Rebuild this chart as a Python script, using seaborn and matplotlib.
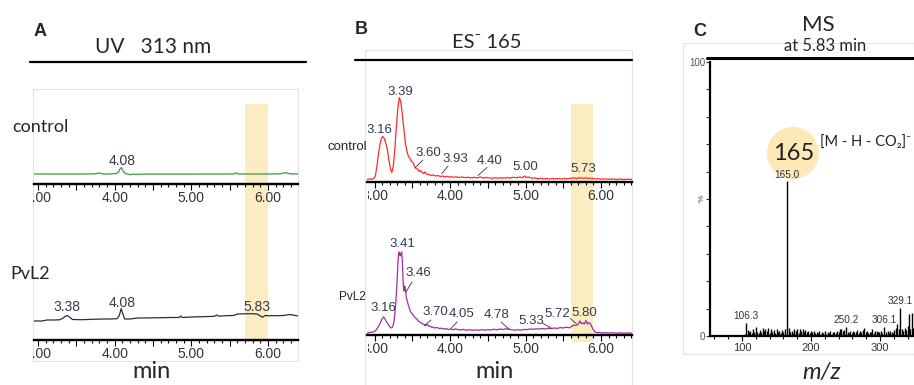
import matplotlib
matplotlib.use('Agg')
import numpy as np
import pandas as pd
import matplotlib.pyplot as plt
import seaborn as sns
from matplotlib.lines import Line2D
from matplotlib.patches import Rectangle, Circle
from matplotlib.ticker import MultipleLocator, FixedLocator, FuncFormatter
from matplotlib.transforms import Bbox, TransformedBbox, blended_transform_factory

# ---------------- data ----------------
# Panel A : UV 313 nm (time in min, signal in arbitrary units)
a_ctrl_t = [2.95, 3.1, 3.3, 3.5, 3.65, 3.74, 3.78, 3.81, 3.84, 3.88, 3.95, 4.02, 4.05, 4.075,
            4.09, 4.11, 4.14, 4.18, 4.22, 4.24, 4.27, 4.4, 4.6, 4.8, 5.0, 5.2, 5.4, 5.55,
            5.58, 5.61, 5.8, 6.0, 6.15, 6.2, 6.23, 6.26, 6.3, 6.39]
a_ctrl_y = [10.0, 10.0, 10.0, 10.0, 10.0, 10.1, 10.8, 10.9, 10.1, 9.9, 10.1, 10.5, 12.0, 15.8,
            16.3, 12.8, 10.4, 9.7, 9.4, 9.9, 9.7, 9.9, 9.9, 9.9, 9.9, 10.0, 10.0, 10.0,
            11.2, 10.0, 10.0, 10.0, 10.1, 10.9, 11.4, 10.6, 10.1, 10.1]

a_pvl_t = [2.95, 3.05, 3.12, 3.2, 3.28, 3.32, 3.35, 3.38, 3.41, 3.45, 3.55, 3.65, 3.75, 3.85,
           3.95, 4.03, 4.06, 4.085, 4.1, 4.13, 4.2, 4.3, 4.45, 4.6, 4.75, 4.84, 4.86, 4.88,
           5.0, 5.15, 5.3, 5.33, 5.36, 5.45, 5.55, 5.6, 5.7, 5.8, 5.86, 5.9, 5.93, 5.96,
           6.0, 6.1, 6.2, 6.28, 6.32, 6.39]
a_pvl_y = [18.5, 18.5, 19.5, 19.5, 19.7, 21.0, 23.0, 24.0, 22.5, 20.0, 19.8, 20.0, 20.3, 20.5,
           20.5, 20.8, 24.0, 31.0, 27.0, 20.5, 20.5, 21.5, 21.6, 21.8, 22.0, 22.0, 23.5, 22.0,
           22.5, 22.8, 23.2, 24.5, 23.3, 23.8, 24.0, 25.5, 25.7, 25.8, 25.3, 23.5, 22.3, 24.0,
           23.8, 23.8, 24.0, 25.0, 24.5, 23.5]

# Panel B : ES- 165 extracted ion chromatograms
b_ctrl_t = [2.90, 2.93, 2.96, 2.99, 3.01, 3.03, 3.05, 3.07, 3.09, 3.11, 3.13, 3.15, 3.17, 3.19,
            3.21, 3.23, 3.25, 3.27, 3.29, 3.31, 3.33, 3.35, 3.37, 3.39, 3.41, 3.43, 3.45, 3.47,
            3.49, 3.51, 3.53, 3.55, 3.57, 3.59, 3.61, 3.63, 3.65, 3.67, 3.69, 3.72, 3.75, 3.78,
            3.81, 3.84, 3.87, 3.90, 3.93, 3.96, 3.99, 4.02, 4.05, 4.08, 4.12, 4.16, 4.20, 4.24,
            4.28, 4.32, 4.36, 4.40, 4.44, 4.48, 4.52, 4.56, 4.60, 4.64, 4.68, 4.72, 4.76, 4.80,
            4.84, 4.88, 4.92, 4.96, 4.99, 5.01, 5.04, 5.08, 5.12, 5.16, 5.20, 5.24, 5.28, 5.32,
            5.36, 5.40, 5.44, 5.48, 5.52, 5.56, 5.60, 5.64, 5.68, 5.72, 5.76, 5.80, 5.84, 5.88,
            5.92, 5.96, 6.00, 6.05, 6.10, 6.15, 6.20, 6.25, 6.30, 6.35, 6.41]
b_ctrl_y = [2.0, 2.6, 2.2, 3.0, 5.0, 14.0, 26.0, 36.0, 43.0, 45.0, 43.0, 38.0, 32.0, 22.0,
            13.0, 9.0, 16.0, 33.0, 55.0, 74.0, 84.0, 79.0, 66.0, 52.0, 38.0, 30.0, 25.0, 23.0,
            20.0, 19.0, 15.0, 13.0, 12.5, 10.0, 11.0, 9.0, 8.0, 9.5, 7.5, 7.0, 6.0, 6.5,
            5.5, 6.0, 5.0, 5.5, 4.5, 5.2, 4.5, 4.8, 4.2, 4.6, 4.0, 4.5, 3.8, 4.3,
            3.6, 4.2, 3.5, 4.5, 3.4, 4.0, 3.5, 3.2, 3.8, 3.3, 3.7, 3.4, 3.9, 3.5,
            4.2, 3.8, 4.4, 4.0, 5.5, 4.0, 4.5, 3.2, 3.6, 2.8, 3.2, 2.6, 3.0, 2.5,
            3.0, 2.6, 2.9, 2.5, 3.0, 2.7, 3.2, 3.6, 3.0, 3.8, 3.2, 3.6, 3.0, 3.2,
            2.6, 2.8, 2.3, 2.6, 2.2, 2.5, 2.1, 2.4, 2.0, 2.3, 2.1]

b_pvl_t = [2.90, 2.94, 2.98, 3.01, 3.04, 3.07, 3.10, 3.12, 3.14, 3.16, 3.18, 3.20, 3.22, 3.24,
           3.26, 3.28, 3.30, 3.31, 3.32, 3.33, 3.34, 3.35, 3.36, 3.37, 3.38, 3.39, 3.40, 3.41,
           3.42, 3.44, 3.46, 3.48, 3.50, 3.52, 3.54, 3.56, 3.58, 3.60, 3.62, 3.64, 3.66, 3.68,
           3.70, 3.72, 3.74, 3.76, 3.78, 3.80, 3.83, 3.86, 3.89, 3.92, 3.95, 3.98, 4.01, 4.04,
           4.07, 4.10, 4.14, 4.18, 4.22, 4.26, 4.30, 4.34, 4.38, 4.42, 4.46, 4.50, 4.54, 4.58,
           4.62, 4.66, 4.70, 4.74, 4.78, 4.82, 4.86, 4.90, 4.94, 4.98, 5.02, 5.06, 5.10, 5.14,
           5.18, 5.22, 5.26, 5.30, 5.34, 5.38, 5.42, 5.46, 5.50, 5.54, 5.58, 5.61, 5.64, 5.67,
           5.70, 5.72, 5.74, 5.76, 5.78, 5.80, 5.82, 5.84, 5.86, 5.88, 5.90, 5.92, 5.95, 5.98,
           6.02, 6.06, 6.10, 6.15, 6.20, 6.25, 6.30, 6.35, 6.41]
b_pvl_y = [2.0, 2.5, 3.0, 4.0, 7.0, 11.0, 16.0, 18.0, 16.0, 13.0, 11.0, 8.5, 7.0, 8.0,
           14.0, 30.0, 55.0, 72.0, 82.0, 83.0, 79.0, 81.0, 83.0, 72.0, 52.0, 44.0, 49.0, 46.0,
           38.0, 32.0, 27.0, 23.0, 21.0, 19.0, 17.0, 16.0, 14.0, 13.0, 12.0, 11.0, 10.5, 9.5,
           10.5, 8.5, 9.0, 7.5, 8.0, 7.0, 7.5, 6.5, 6.8, 6.0, 6.3, 5.5, 6.0, 5.2,
           6.2, 5.5, 5.0, 5.6, 4.8, 5.3, 4.6, 5.2, 4.7, 5.4, 4.8, 5.3, 5.0, 5.8,
           5.2, 6.0, 5.5, 6.2, 5.8, 5.2, 4.8, 5.3, 4.9, 5.6, 5.4, 6.0, 5.6, 6.3,
           5.9, 6.5, 6.0, 6.8, 6.4, 7.0, 6.6, 7.4, 7.0, 7.8, 7.2, 8.5, 10.0, 9.5,
           11.0, 14.0, 11.5, 12.0, 11.0, 14.5, 11.0, 12.5, 11.0, 8.0, 5.0, 3.0, 2.2, 2.6,
           2.0, 2.4, 1.9, 2.3, 1.8, 2.2, 1.8, 2.1, 1.9]

# Panel C : MS spectrum at 5.83 min (m/z, relative intensity %)
ms_mz = [104, 106.3, 108, 110, 112, 114, 116, 118, 120, 122,
         124, 126, 128, 130, 132, 134, 136, 138, 140, 142,
         144, 146, 148, 150, 152, 154, 156, 158, 160, 162,
         165.0, 168, 170, 172, 174, 176, 178, 180, 182, 184,
         186, 188, 190, 192, 194, 196, 198, 200, 202, 204,
         206, 208, 210, 212, 214, 216, 218, 220, 222, 224,
         226, 228, 230, 232, 234, 236, 238, 240, 242, 244,
         246, 248, 250.2, 253, 255, 257, 259, 261, 263, 265,
         267, 269, 271, 273, 275, 277, 279, 281, 283, 285,
         287, 289, 291, 293, 295, 297, 299, 301, 303, 306.1,
         309, 311, 313, 315, 317, 319, 321, 323, 325, 327,
         329.1, 332, 334, 336, 338, 340, 342, 344, 346, 348]
ms_int = [0.8, 4.7, 2.2, 1.5, 2.0, 1.2, 2.5, 1.4, 3.2, 1.6,
          1.0, 2.2, 1.5, 2.8, 1.8, 2.6, 2.0, 2.9, 1.2, 2.4,
          1.6, 2.2, 1.1, 2.5, 1.3, 1.9, 1.0, 2.3, 1.5, 2.6,
          56.5, 2.8, 1.4, 2.0, 1.2, 2.6, 1.8, 2.4, 1.0, 2.7,
          2.0, 2.5, 1.3, 2.2, 1.6, 2.0, 1.1, 1.9, 1.4, 1.7,
          1.0, 1.6, 1.2, 1.9, 0.9, 1.5, 1.1, 1.8, 0.8, 1.4,
          1.0, 1.7, 0.9, 1.3, 1.6, 1.1, 2.0, 1.4, 2.4, 2.7,
          1.8, 2.3, 3.3, 1.5, 1.2, 1.8, 1.0, 2.0, 1.3, 1.6,
          2.2, 1.1, 1.7, 1.4, 2.3, 2.8, 1.5, 2.0, 1.0, 1.6,
          1.3, 2.4, 1.2, 1.7, 2.0, 1.3, 1.5, 1.8, 1.1, 3.3,
          1.4, 1.9, 1.2, 2.0, 1.5, 1.2, 2.1, 3.0, 4.2, 2.5,
          10.2, 2.6, 1.8, 3.0, 2.2, 3.5, 8.0, 2.4, 8.5, 3.0]
ms_labels = ['106.3', '165.0', '250.2', '306.1', '329.1']

# peak labels (text, time)
a_ctrl_lab = ['4.08']
a_ctrl_lab_t = [4.095]
a_pvl_lab = ['3.38', '4.08', '5.83']
a_pvl_lab_t = [3.378, 4.095, 5.855]

b_ctrl_lab = ['3.16', '3.39', '3.60', '3.93', '4.40', '5.00', '5.73']
b_ctrl_lab_t = [3.06, 3.338, 3.709, 4.066, 4.53, 4.993, 5.76]
b_pvl_lab = ['3.16', '3.41', '3.46', '3.70', '4.05', '4.78', '5.33', '5.72', '5.80']
b_pvl_lab_t = [3.113, 3.364, 3.576, 3.801, 4.159, 4.623, 5.073, 5.417, 5.775]

hl_A = (5.70, 6.00)
hl_B = (5.60, 5.89)

# ---------------- figure ----------------
sns.set_theme(style='white')
plt.rcParams['font.family'] = ['Liberation Sans', 'DejaVu Sans']
CAL = ['Lato', 'DejaVu Sans']

W, H = 914, 385
fig = plt.figure(figsize=(W / 100, H / 100), dpi=100)
fig.patch.set_facecolor('white')


def fx(x):
    return x / W


def fy(y):
    return 1 - y / H


def ftext(x, y, s, **kw):
    kw.setdefault('ha', 'center')
    kw.setdefault('va', 'center')
    return fig.text(fx(x), fy(y), s, **kw)


def hline(x0, x1, y, lw=1.6, color='black'):
    fig.add_artist(Line2D([fx(x0), fx(x1)], [fy(y), fy(y)], color=color, lw=lw,
                          transform=fig.transFigure))


def box(x0, y0, x1, y1):
    fig.add_artist(Rectangle((fx(x0), fy(y1)), (x1 - x0) / W, (y1 - y0) / H,
                             transform=fig.transFigure, facecolor='none',
                             edgecolor='#e2e2e2', lw=0.8, zorder=-2))


TICKC = '#333333'
LABC = '#343a4c'


def int_fmt(v, p):
    return f'{v:.2f}' if abs(v - round(v)) < 1e-6 else ''


def chrom_ax(x0, x1, y_axis, y_top, t0, t1):
    ax = fig.add_axes([fx(x0), fy(y_axis), (x1 - x0) / W, (y_axis - y_top) / H])
    ax.set_facecolor('none')
    ax.set_xlim(t0, t1)
    ax.set_ylim(0, y_axis - y_top)
    for s in ['top', 'right', 'left']:
        ax.spines[s].set_visible(False)
    ax.spines['bottom'].set_linewidth(1.7)
    ax.spines['bottom'].set_color('black')
    ax.xaxis.set_major_locator(MultipleLocator(0.5))
    ax.xaxis.set_minor_locator(MultipleLocator(0.1))
    ax.xaxis.set_major_formatter(FuncFormatter(int_fmt))
    ax.tick_params(axis='x', which='major', bottom=True, length=4.0, width=0.8,
                   direction='out', color='black', labelsize=10, labelcolor=TICKC, pad=1.2)
    ax.tick_params(axis='x', which='minor', bottom=True, length=2.4, width=0.8,
                   direction='out', color='black')
    ax.set_yticks([])
    ax.grid(False)
    return ax


def trace(ax, t, y, color):
    df = pd.DataFrame({'t': t, 'y': y})
    sns.lineplot(data=df, x='t', y='y', ax=ax, color=color, lw=0.9, estimator=None)
    ax.set_xlabel('')
    ax.set_ylabel('')


def peak_labels(ax, labs, ts, t_data, y_data, dy, size, leaders=None):
    t_arr = np.asarray(t_data)
    y_arr = np.asarray(y_data)
    for i, (s, tl) in enumerate(zip(labs, ts)):
        h = float(np.interp(tl, t_arr, y_arr))
        yy = h + dy[i]
        ax.text(tl, yy, s, ha='center', va='center', fontsize=size, color=LABC,
                clip_on=False)
        if leaders and leaders[i] is not None:
            (ta, ha_), (tb, hb) = leaders[i]
            ax.annotate('', xy=(ta, ha_), xytext=(tb, hb),
                        arrowprops=dict(arrowstyle='-', color='#333333', lw=0.6,
                                        shrinkA=0, shrinkB=0), annotation_clip=False)


# ---------- panel boxes & headers ----------
box(33, 89, 298, 361)
box(365, 50, 632, 390)
box(683, 43, 914, 354)

ftext(40, 31, 'A', fontsize=13, fontweight='bold')
ftext(153, 47, 'UV   313 nm', fontsize=15, family=CAL)
hline(30, 306, 62)

ftext(361, 30, 'B', fontsize=13, fontweight='bold')
ftext(487, 43, 'ES\u207b 165', fontsize=14.5, family=CAL)
hline(355, 632, 60)

ftext(700, 32, 'C', fontsize=13, fontweight='bold')
ftext(818, 25, 'MS', fontsize=16, family=CAL)
ftext(825, 46, 'at 5.83 min', fontsize=12, family=CAL)

# ---------- panel A ----------
A_t0 = 3 + (34 - 38) / 76.7
A_t1 = 3 + (298 - 38) / 76.7
axA1 = chrom_ax(34, 298, 184, 90, A_t0, A_t1)
axA2 = chrom_ax(34, 298, 339.5, 250, A_t0, A_t1)
trace(axA1, a_ctrl_t, a_ctrl_y, '#3c9a3c')
trace(axA2, a_pvl_t, a_pvl_y, '#2e2e2e')
peak_labels(axA1, a_ctrl_lab, a_ctrl_lab_t, a_ctrl_t, a_ctrl_y, [8], 10)
peak_labels(axA2, a_pvl_lab, a_pvl_lab_t, a_pvl_t, a_pvl_y, [8.5, 8.5, 7.5], 10)
ftext(40, 127, 'control', fontsize=13, family=CAL)
ftext(30, 274, 'PvL2', fontsize=13, family=CAL)
ftext(152, 372, 'min', fontsize=17, family=CAL)

trA = blended_transform_factory(axA1.transData, fig.transFigure)
fig.add_artist(Rectangle((hl_A[0], fy(342)), hl_A[1] - hl_A[0], (342 - 104) / H,
                         transform=trA, facecolor='#fcecc2', edgecolor='none', zorder=-1))

# ---------- panel B ----------
B_t0 = 3 + (367 - 374.5) / 75.5
B_t1 = 3 + (632 - 374.5) / 75.5
axB1 = chrom_ax(367, 632, 181.5, 85, B_t0, B_t1)
axB2 = chrom_ax(367, 632, 335, 240, B_t0, B_t1)
trace(axB1, b_ctrl_t, b_ctrl_y, '#ff2a2a')
trace(axB2, b_pvl_t, b_pvl_y, '#a52aa5')

b_ctrl_lab_h = [51.5, 89.5, 28.5, 22.5, 20.5, 14.5, 12.5]
b_ctrl_dy = [hh - float(np.interp(tt, b_ctrl_t, b_ctrl_y)) for hh, tt in zip(b_ctrl_lab_h, b_ctrl_lab_t)]
b_ctrl_lead = [None, None,
               ((3.536, 13.5), (3.642, 21.5)),
               ((3.894, 8.0), (3.974, 15.5)),
               ((4.371, 6.0), (4.49, 14.0)),
               None, None]
peak_labels(axB1, b_ctrl_lab, b_ctrl_lab_t, b_ctrl_t, b_ctrl_y, b_ctrl_dy, 9.5, b_ctrl_lead)

b_pvl_lab_h = [27, 91, 62, 23, 21, 20, 14, 21, 22]
b_pvl_dy = [hh - float(np.interp(tt, b_pvl_t, b_pvl_y)) for hh, tt in zip(b_pvl_lab_h, b_pvl_lab_t)]
b_pvl_lead = [None, None,
              ((3.417, 43.0), (3.497, 53.0)),
              ((3.656, 9.0), (3.748, 15.0)),
              ((4.013, 6.5), (4.093, 13.0)),
              ((4.781, 6.0), (4.675, 13.0)),
              ((5.338, 7.0), (5.232, 11.5)),
              ((5.672, 11.5), (5.593, 16.5)),
              None]
peak_labels(axB2, b_pvl_lab, b_pvl_lab_t, b_pvl_t, b_pvl_y, b_pvl_dy, 9.5, b_pvl_lead)

ftext(347, 147, 'control', fontsize=9.5)
ftext(352, 297, 'PvL2', fontsize=8.5)
ftext(494, 372, 'min', fontsize=17, family=CAL)

trB = blended_transform_factory(axB1.transData, fig.transFigure)
fig.add_artist(Rectangle((hl_B[0], fy(342)), hl_B[1] - hl_B[0], (342 - 104) / H,
                         transform=trB, facecolor='#fcecc2', edgecolor='none', zorder=-1))

# ---------- panel C ----------
mz_px = lambda px: 100 + (px - 742) / 0.69
axC = fig.add_axes([fx(710), fy(336), (914 - 710) / W, (336 - 62) / H])
axC.set_facecolor('none')
axC.set_xlim(mz_px(710), mz_px(914))
axC.set_ylim(0, 100)
for s in ['top', 'right']:
    axC.spines[s].set_visible(False)
for s in ['left', 'bottom']:
    axC.spines[s].set_linewidth(1.6)
    axC.spines[s].set_color('black')
axC.vlines(ms_mz, 0, ms_int, color='black', lw=1.0)
axC.xaxis.set_major_locator(FixedLocator([100, 200, 300]))
axC.xaxis.set_minor_locator(MultipleLocator(20))
axC.yaxis.set_major_locator(FixedLocator([0, 100]))
axC.yaxis.set_minor_locator(MultipleLocator(10))
axC.tick_params(axis='x', which='major', bottom=True, length=3.5, width=0.8, color='black',
                labelsize=8, labelcolor='#333333', pad=1.2)
axC.tick_params(axis='x', which='minor', bottom=True, length=2.2, width=0.8, color='black')
axC.tick_params(axis='y', which='major', left=True, length=3.0, width=0.8, color='#333333',
                labelsize=7, labelcolor='#555555', pad=0.5)
axC.tick_params(axis='y', which='minor', left=True, length=3.0, width=0.8, color='#333333')
axC.grid(False)
mz_arr = np.asarray(ms_mz)
int_arr = np.asarray(ms_int)
for s in ms_labels:
    i = int(np.argmin(np.abs(mz_arr - float(s))))
    axC.text(mz_arr[i], int_arr[i] + 0.6, s, ha='center', va='bottom', fontsize=7.2,
             color='#333333')
hline(707, 914, 58, lw=2.2)
ftext(702, 198, '%', fontsize=6, rotation=90, color='#555555')

fig.add_artist(Circle((7.93, (H - 153) / 100), 0.26, transform=fig.dpi_scale_trans,
                      facecolor='#fde9b8', edgecolor='none', zorder=-1))
ftext(794, 153, '165', fontsize=17, family=CAL, color='#222222')
ftext(865, 143, '[M - H - CO\u2082]\u207b', fontsize=10.5, family=CAL, color='#222222')
ftext(822, 372, 'm/z', fontsize=17, family=CAL, style='italic')

# clip the leftmost tick labels at the panel frame
fig.canvas.draw()
for ax, xc in [(axA1, 33), (axA2, 33), (axB1, 368), (axB2, 368)]:
    cb = TransformedBbox(Bbox.from_extents(fx(xc), 0, 1, 1), fig.transFigure)
    for tk in ax.xaxis.get_major_ticks():
        tk.label1.set_clip_on(True)
        tk.label1.set_clip_box(cb)

fig.savefig('out.png', dpi=100)
